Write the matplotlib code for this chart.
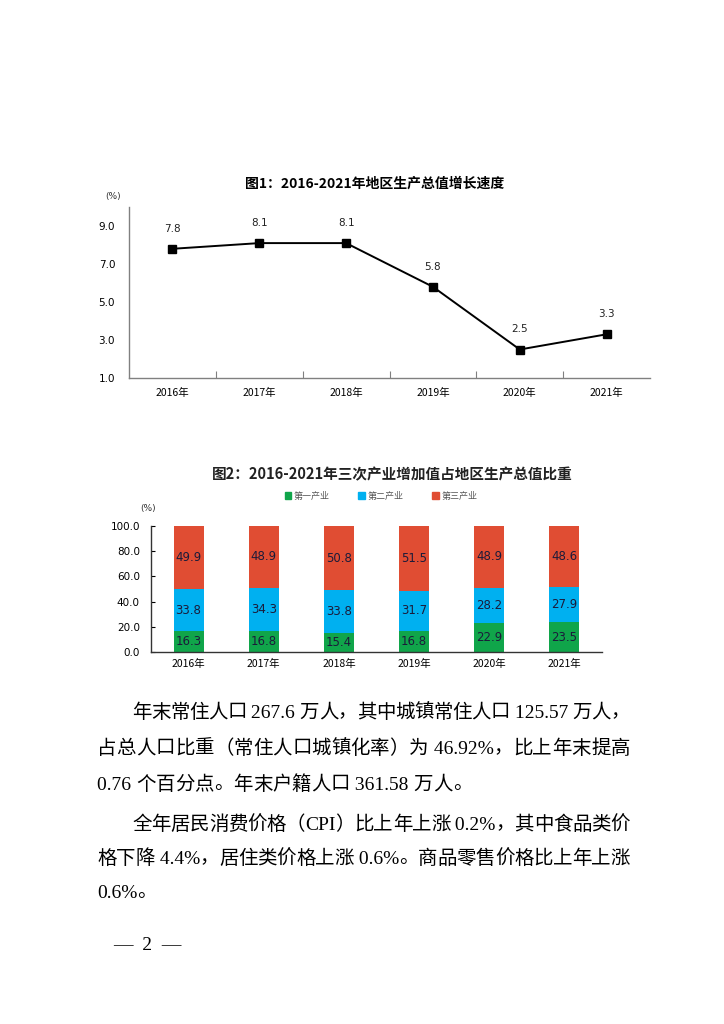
import re
import matplotlib
matplotlib.use("Agg")
import matplotlib.pyplot as plt
from matplotlib.patches import Patch

plt.rcParams['font.family'] = ['DejaVu Sans', 'Noto Sans CJK SC']

# chart 1 data
years = ['2016年', '2017年', '2018年', '2019年', '2020年', '2021年']
growth = [7.8, 8.1, 8.1, 5.8, 2.5, 3.3]
y1_ticks = [1.0, 3.0, 5.0, 7.0, 9.0]

# chart 2 data
primary = [16.3, 16.8, 15.4, 16.8, 22.9, 23.5]
secondary = [33.8, 34.3, 33.8, 31.7, 28.2, 27.9]
tertiary = [49.9, 48.9, 50.8, 51.5, 48.9, 48.6]
series_names = ['第一产业', '第二产业', '第三产业']
y2_ticks = [0, 20, 40, 60, 80, 100]

para = [
    '年末常住人口 267.6 万人，其中城镇常住人口 125.57 万人，',
    '占总人口比重（常住人口城镇化率）为 46.92%，比上年末提高',
    '0.76 个百分点。年末户籍人口 361.58 万人。',
    '全年居民消费价格（CPI）比上年上涨 0.2%，其中食品类价',
    '格下降 4.4%，居住类价格上涨 0.6%。商品零售价格比上年上涨',
    '0.6%。',
]
justified = [True, True, False, True, True, False]

W, H = 724, 1024
fig = plt.figure(figsize=(W / 100, H / 100), dpi=100)
fig.patch.set_facecolor('white')


def box(l, t, r, b):
    return [l / W, 1 - b / H, (r - l) / W, (b - t) / H]


cjk = ['Noto Sans CJK SC', 'DejaVu Sans']
gray = '#808080'

# ---- chart 1 ----
ax1 = fig.add_axes(box(129, 207, 650, 378))
x = list(range(len(years)))
ax1.plot(x, growth, color='black', lw=1.4, marker='s', ms=5.5, mfc='black', mec='black')
for i, v in enumerate(growth):
    ax1.annotate(f'{v:.1f}', (i, v), xytext=(0, 11), textcoords='offset points',
                 ha='center', va='bottom', fontsize=7.5, color='#222222')
ax1.set_xlim(-0.5, len(years) - 0.5)
ax1.set_ylim(1, 10)
ax1.set_yticks(y1_ticks)
ax1.set_yticklabels([f'{t:.1f}' for t in y1_ticks], fontsize=7.5)
ax1.set_xticks([i + 0.5 for i in range(len(years) - 1)])
ax1.set_xticklabels([])
ax1.set_xticks(x, minor=True)
ax1.set_xticklabels(years, minor=True, fontsize=7.5, family=cjk)
ax1.tick_params(axis='x', which='major', direction='in', length=5, color=gray)
ax1.tick_params(axis='x', which='minor', length=0, pad=7)
ax1.tick_params(axis='y', length=0, pad=10)
for s in ['top', 'right']:
    ax1.spines[s].set_visible(False)
for s in ['left', 'bottom']:
    ax1.spines[s].set_color(gray)
    ax1.spines[s].set_linewidth(1)
fig.text(375 / W, 1 - 184 / H, '图1：2016-2021年地区生产总值增长速度', ha='center', va='center',
         fontsize=10, fontweight='bold', family=cjk)
fig.text(113 / W, 1 - 196 / H, '(%)', ha='center', va='center', fontsize=6.5, color='#333333')

# ---- chart 2 ----
colors = ['#10A54A', '#00B0F0', '#E04D33']
ax2 = fig.add_axes(box(151, 526, 602, 652))
bottom = [0] * len(years)
for vals, c, name in zip([primary, secondary, tertiary], colors, series_names):
    bars = ax2.bar(x, vals, 0.4, bottom=bottom, color=c, label=name)
    for b, v, btm in zip(bars, vals, bottom):
        ax2.text(b.get_x() + b.get_width() / 2, btm + v / 2, f'{v:.1f}', ha='center', va='center',
                 fontsize=8.5, color='#1b1b3a')
    bottom = [a + b for a, b in zip(bottom, vals)]
ax2.set_xlim(-0.5, len(years) - 0.5)
ax2.set_ylim(0, 100)
ax2.set_yticks(y2_ticks)
ax2.set_yticklabels([f'{t:.1f}' for t in y2_ticks], fontsize=7.5)
ax2.set_xticks(x)
ax2.set_xticklabels(years, fontsize=7.5, family=cjk)
ax2.tick_params(axis='x', length=0, pad=5)
ax2.tick_params(axis='y', direction='in', length=3, pad=8)
for s in ['top', 'right']:
    ax2.spines[s].set_visible(False)
for s in ['left', 'bottom']:
    ax2.spines[s].set_color('#333333')
    ax2.spines[s].set_linewidth(1)
fig.text(392 / W, 1 - 474 / H, '图2：2016-2021年三次产业增加值占地区生产总值比重', ha='center', va='center',
         fontsize=10.5, fontweight='bold', family=cjk, color='#222222')
fig.text(148 / W, 1 - 508 / H, '(%)', ha='center', va='center', fontsize=6.5, color='#333333')
handles = [Patch(color=c) for c in colors]
fig.legend(handles, series_names, loc='center', bbox_to_anchor=(381 / W, 1 - 496 / H), ncol=3,
           frameon=False, handlelength=0.7, handleheight=0.7, handletextpad=0.3,
           columnspacing=3.2, prop={'family': cjk, 'size': 6.5}, labelcolor='#555555')

# ---- paragraphs (justified between left and right margins) ----
serif = ['Liberation Serif', 'Noto Sans CJK SC']
line_y = [713, 749, 785, 825, 859, 893]
line_x = [132, 97, 97, 132, 97, 97]
right_edge = 630
renderer = fig.canvas.get_renderer()
for txt, lx, ly, just in zip(para, line_x, line_y, justified):
    tokens = re.findall(r'[A-Za-z0-9.% ]+|.', txt)
    objs = [fig.text(0, 1 - ly / H, tk, ha='left', va='center', fontsize=14, family=serif,
                     fontweight='light', color='black') for tk in tokens]
    widths = [o.get_window_extent(renderer).width for o in objs]
    gap = (right_edge - lx - sum(widths)) / (len(objs) - 1) if just else 0.0
    cx = lx
    for o, w in zip(objs, widths):
        o.set_x(cx / W)
        cx += w + gap
fig.text(113 / W, 1 - 945 / H, '—  2  —', ha='left', va='center', fontsize=14, family=serif,
         fontweight='light')

fig.savefig('out.png', dpi=100, facecolor='white')
